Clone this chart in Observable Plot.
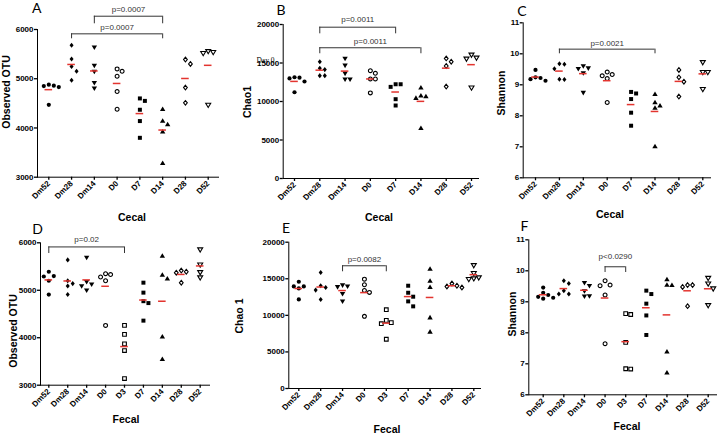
<!DOCTYPE html>
<html><head><meta charset="utf-8">
<script src="https://cdn.jsdelivr.net/npm/d3@7"></script>
<script src="https://cdn.jsdelivr.net/npm/@observablehq/plot@0.6"></script>
<style>
body{margin:0;background:#fff;}
#fig{position:relative;width:720px;height:438px;overflow:hidden;font-family:"Liberation Sans",Arial,sans-serif;background:#fff;}
.panel{position:absolute;}
.panel svg .domain{stroke-width:1.4;}
.panel svg .tick line{stroke-width:1.2;}
.panel svg [aria-label$="axis line"] line,.panel svg [aria-label$="axis tick"] path{stroke-width:1.3;}
.lbl{position:absolute;transform:translate(-50%,-50%);white-space:nowrap;color:#000;line-height:1;}
.letter{font-family:Lato,"Open Sans",sans-serif;font-size:14px;}
.ytitle{font-weight:bold;font-size:10.5px;transform:translate(-50%,-50%) rotate(-90deg);}
.xtitle{font-weight:bold;font-size:10.5px;}
.note{font-family:"Liberation Serif","DejaVu Serif",serif;font-size:7.5px;}
</style></head><body><div id="fig"></div><script>
// ---------------- DATA ----------------
const cecalGroups = ["Dm52","Dm28","Dm14","D0","D7","D14","D28","D52"];
const fecalGroups = ["Dm52","Dm28","Dm14","D0","D3","D7","D14","D28","D52"];

// A: Cecal – Observed OTU
const cecalOTU = [
  [4880, 4860, 4850, 4830, 4470],
  [5680, 5400, 5250, 5150, 4970],
  [5640, 5270, 5150, 4920, 4810],
  [5200, 5150, 5050, 4740, 4380],
  [4600, 4550, 4370, 4140, 3800],
  [4380, 4140, 4070, 3920, 3280],
  [5390, 5300, 4820, 4510],
  [5560, 5540, 5520, 4470]
];
// B: Cecal – Chao1
const cecalChao = [
  [13150, 13100, 13000, 12600, 11200],
  [15170, 14310, 14140, 13360, 13360],
  [15600, 14700, 13660, 12890, 12890],
  [14000, 13660, 12930, 12930, 11120],
  [12240, 12240, 11900, 10300, 9480],
  [11770, 10730, 10650, 10430, 6510],
  [15600, 15170, 14610, 11940],
  [16080, 15690, 15560, 11810]
];
// C: Cecal – Shannon
const cecalShannon = [
  [9.48, 9.24, 9.22, 9.18, 9.13],
  [9.68, 9.66, 9.52, 9.18, 9.17],
  [9.61, 9.54, 9.52, 9.38, 8.75],
  [9.41, 9.33, 9.29, 9.20, 8.43],
  [8.77, 8.72, 8.54, 8.10, 7.68],
  [8.69, 8.43, 8.32, 8.25, 7.01],
  [9.48, 9.24, 9.10, 8.62],
  [9.73, 9.41, 9.41, 8.86]
];
// D: Fecal – Observed OTU
const fecalOTU = [
  [5390, 5300, 5290, 5200, 4910],
  [5640, 5200, 5140, 5090, 4910],
  [5690, 5180, 5130, 5090, 5000],
  [5350, 5330, 5280, 5200, 4260],
  [4260, 4070, 3870, 3730, 3140],
  [5160, 4950, 4770, 4730, 4360],
  [5720, 5320, 5240, 4020, 3545],
  [5415, 5390, 5370, 5160],
  [5860, 5540, 5380, 5270]
];
// E: Fecal – Chao 1
const fecalChao = [
  [14590, 13950, 13950, 13680, 12180],
  [15860, 14050, 13820, 13450, 12180],
  [14140, 14000, 13900, 12950, 11950],
  [14950, 14180, 13410, 13140, 9860],
  [10770, 9320, 9000, 8860, 6730],
  [14050, 13090, 12550, 11910, 11230],
  [16320, 14680, 13820, 9680, 7730],
  [14360, 14050, 13950, 13820],
  [16860, 15770, 15180, 15050, 14950]
];
// F: Fecal – Shannon
const fecalShannon = [
  [9.46, 9.29, 9.22, 9.16, 9.13, 9.10],
  [9.68, 9.59, 9.36, 9.25, 9.25],
  [9.62, 9.52, 9.35, 9.19, 9.18],
  [9.68, 9.54, 9.52, 9.22, 7.65],
  [8.62, 8.59, 7.69, 6.84, 6.83],
  [9.36, 9.25, 8.94, 8.56, 7.93],
  [9.72, 9.54, 9.53, 7.39, 6.71],
  [9.54, 9.54, 9.48, 8.86],
  [9.77, 9.59, 9.43, 8.89]
];

// comparisons: [from, to, label]
const bracketsA = [["Dm14","D14","p=0.0007"],["Dm28","D14","p=0.0007"]];
const bracketsB = [["Dm28","D7","p=0.0011"],["Dm28","D14","p=0.0011"]];
const bracketsC = [["Dm28","D14","p=0.0021"]];
const bracketsD = [["Dm52","D3","p=0.02"]];
const bracketsE = [["Dm14","D3","p=0.0082"]];
const bracketsF = [["D0","D3","p<0.0290"]];

// ---------------- LAYOUT ----------------
const panels = [
 {letter:"A", groups:cecalGroups, values:cecalOTU, brackets:bracketsA, ylabel:"Observed OTU", xlabel:"Cecal",
  left:0, top:0, w:240, h:218, axisX:37, axisEnd:218, yTop:29, yBot:176.7, cat0:48.3, catN:207.7,
  yDomain:[3000,6000], yTicks:[3000,4000,5000,6000], levels:[[6270,6116,6.7],[5912,5811,6.6]],
  letterPos:[36.7,8], ylabPos:[6,92], xlabPos:[132,217]},
 {letter:"B", groups:cecalGroups, values:cecalChao, brackets:bracketsB, ylabel:"Chao1", xlabel:"Cecal",
  left:240, top:0, w:240, h:218, axisX:282.7, axisEnd:478, yTop:24, yBot:178, cat0:294, catN:471,
  yDomain:[0,20000], yTicks:[0,5000,10000,15000,20000], levels:[[19650,18790,7.7],[16980,16200,6.7]],
  letterPos:[281,10], ylabPos:[247,102], xlabPos:[379,217]},
 {letter:"C", groups:cecalGroups, values:cecalShannon, brackets:bracketsC, ylabel:"Shannon", xlabel:"Cecal",
  left:480, top:0, w:240, h:218, axisX:522.7, axisEnd:710, yTop:22.3, yBot:177.3, cat0:535, catN:702.3,
  yDomain:[6,11], yTicks:[6,7,8,9,10,11], levels:[[10.15,10.0,6]],
  letterPos:[522,11], ylabPos:[500.5,93], xlabPos:[610,214]},
 {letter:"D", groups:fecalGroups, values:fecalOTU, brackets:bracketsD, ylabel:"Observed OTU", xlabel:"Fecal",
  left:0, top:218, w:240, h:220, axisX:40, axisEnd:209, yTop:242.3, yBot:384.7, cat0:48.3, catN:199.7,
  yDomain:[3000,6000], yTicks:[3000,4000,5000,6000], levels:[[5913,5774,7.5]],
  letterPos:[37.5,229], ylabPos:[12.5,331], xlabPos:[126,419]},
 {letter:"E", groups:fecalGroups, values:fecalChao, brackets:bracketsE, ylabel:"Chao 1", xlabel:"Fecal",
  left:240, top:218, w:240, h:220, axisX:288.3, axisEnd:480, yTop:241.7, yBot:388, cat0:298.3, catN:473.3,
  yDomain:[0,20000], yTicks:[0,5000,10000,15000,20000], levels:[[16777,15957,6]],
  letterPos:[286,228], ylabPos:[239,316], xlabPos:[387,429]},
 {letter:"F", groups:fecalGroups, values:fecalShannon, brackets:bracketsF, ylabel:"Shannon", xlabel:"Fecal",
  left:480, top:218, w:240, h:220, axisX:528.3, axisEnd:716, yTop:239.3, yBot:394.3, cat0:542.7, catN:707.7,
  yDomain:[6,11], yTicks:[6,7,8,9,10,11], levels:[[10.13,9.945,10]],
  letterPos:[524.5,226], ylabPos:[511.5,314], xlabPos:[627,425.5]}
];

// ---------------- SYMBOLS ----------------
const R = s => Math.sqrt(s / Math.PI);
const symbols = {
  circle:{draw(c,s){const r=R(s); c.moveTo(r,0); c.arc(0,0,r,0,2*Math.PI); c.closePath();}},
  square:{draw(c,s){const r=R(s)*0.95; c.moveTo(-r,-r); c.lineTo(r,-r); c.lineTo(r,r); c.lineTo(-r,r); c.closePath();}},
  diamond:{draw(c,s){const r=R(s)*1.2; c.moveTo(0,-r); c.lineTo(r*0.8,0); c.lineTo(0,r); c.lineTo(-r*0.8,0); c.closePath();}},
  up:{draw(c,s){const r=R(s)*1.35; c.moveTo(0,-r); c.lineTo(r*0.95,r*0.6); c.lineTo(-r*0.95,r*0.6); c.closePath();}},
  down:{draw(c,s){const r=R(s)*1.35; c.moveTo(0,r); c.lineTo(r*0.95,-r*0.6); c.lineTo(-r*0.95,-r*0.6); c.closePath();}}
};
const groupStyle = {Dm52:["circle",true], Dm28:["diamond",true], Dm14:["down",true], D0:["circle",false],
  D3:["square",false], D7:["square",true], D14:["up",true], D28:["diamond",false], D52:["down",false]};

// simple scatter (dodge) so overlapping points spread sideways
function jitter(vals, pxPerUnit, step) {
  const d = 5;
  const placed = [];
  return vals.map(v => {
    const py = v * pxPerUnit;
    for (let k = 0; k < 30; k++) {
      const off = k === 0 ? 0 : (k % 2 ? 1 : -1) * Math.ceil(k / 2) * d;
      if (placed.every(p => Math.hypot(p.x - off, p.y - py) >= d)) {
        placed.push({x: off, y: py});
        return off / step;
      }
    }
    return 0;
  });
}

const fig = document.getElementById("fig");
const RED = "#e3342f";

for (const p of panels) {
  const n = p.groups.length;
  const step = (p.catN - p.cat0) / (n - 1);
  const xDomain = [(p.axisX - p.cat0) / step, (p.axisEnd - p.cat0) / step];
  const pxPerUnit = (p.yBot - p.yTop) / (p.yDomain[1] - p.yDomain[0]);
  const rows = [], means = [];
  p.groups.forEach((g, i) => {
    const vals = p.values[i];
    const offs = jitter(vals, pxPerUnit, step);
    vals.forEach((v, k) => rows.push({g, i, v, x: i + offs[k]}));
    means.push({i, m: d3.mean(vals)});
  });
  const hw = 3.8 / step;
  const marks = [];
  p.groups.forEach(g => {
    const [s, filled] = groupStyle[g];
    marks.push(Plot.dot(rows.filter(r => r.g === g), {
      x: "x", y: "v", r: filled ? 2.1 : 1.95, symbol: symbols[s],
      fill: filled ? "black" : "white", stroke: filled ? "none" : "black", strokeWidth: 1.1
    }));
  });
  marks.push(Plot.ruleY(means, {x1: d => d.i - hw, x2: d => d.i + hw, y: "m", stroke: RED, strokeWidth: 1.5}));
  const br = p.brackets.map(([a, b, label], k) => ({
    a: p.groups.indexOf(a), b: p.groups.indexOf(b), label,
    y: p.levels[k][0], y2: p.levels[k][1], gap: p.levels[k][2]
  }));
  marks.push(Plot.ruleY(br, {x1: "a", x2: "b", y: "y", stroke: "#333", strokeWidth: 1}));
  marks.push(Plot.ruleX(br, {x: "a", y1: "y", y2: "y2", stroke: "#333", strokeWidth: 1}));
  marks.push(Plot.ruleX(br, {x: "b", y1: "y", y2: "y2", stroke: "#333", strokeWidth: 1}));
  br.forEach(b => marks.push(Plot.text([b], {
    x: d => (d.a + d.b) / 2, y: "y", text: "label", dy: -b.gap,
    fontSize: 8, fontWeight: "normal", fill: "#333"
  })));

  const svg = Plot.plot({
    width: p.w, height: p.h,
    marginLeft: p.axisX - p.left, marginRight: p.left + p.w - p.axisEnd,
    marginTop: p.yTop - p.top, marginBottom: p.top + p.h - p.yBot,
    x: {type: "linear", domain: xDomain, ticks: d3.range(n), tickFormat: i => p.groups[i],
        tickRotate: -45, line: true, label: null, tickSize: 3, tickPadding: 2},
    y: {domain: p.yDomain, ticks: p.yTicks, tickFormat: d3.format("d"), line: true,
        label: null, tickSize: 3, tickPadding: 1},
    style: {background: "transparent", overflow: "visible", color: "black",
            fontFamily: "'Liberation Sans', Arial, sans-serif", fontSize: "8px", fontWeight: "bold"},
    marks
  });
  const wrap = document.createElement("div");
  wrap.className = "panel";
  wrap.style.left = p.left + "px";
  wrap.style.top = p.top + "px";
  wrap.appendChild(svg);
  fig.appendChild(wrap);
}

function addLabel(text, cls, [x, y]) {
  const el = document.createElement("div");
  el.className = "lbl " + cls;
  el.textContent = text;
  el.style.left = x + "px";
  el.style.top = y + "px";
  fig.appendChild(el);
}
for (const p of panels) {
  addLabel(p.letter, "letter", p.letterPos);
  addLabel(p.ylabel, "ytitle", p.ylabPos);
  addLabel(p.xlabel, "xtitle", p.xlabPos);
}
addLabel("Day 0", "note", [265.5, 61]);
</script></body></html>
